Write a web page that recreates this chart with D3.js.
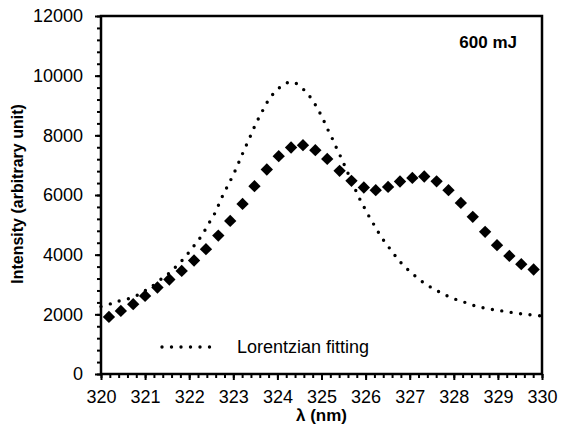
<!DOCTYPE html>
<html>
<head>
<meta charset="utf-8">
<script src="https://cdn.jsdelivr.net/npm/d3@7"></script>
<style>
  html, body { margin: 0; padding: 0; background: #fff; }
  svg { display: block; font-family: "Liberation Sans", Arial, sans-serif; }
</style>
</head>
<body>
<svg id="chart" width="568" height="435"></svg>
<script>
// Measured emission spectrum (diamonds)
const wavelength = [320.18, 320.45, 320.73, 321.00, 321.28, 321.55, 321.83, 322.11, 322.38, 322.66,
  322.93, 323.21, 323.48, 323.76, 324.03, 324.31, 324.58, 324.86, 325.13, 325.41,
  325.68, 325.96, 326.23, 326.51, 326.78, 327.06, 327.33, 327.61, 327.88, 328.16,
  328.43, 328.71, 328.98, 329.26, 329.53, 329.81];
const intensity = [1914, 2115, 2340, 2618, 2900, 3168, 3456, 3805, 4184, 4640,
  5130, 5700, 6296, 6855, 7301, 7593, 7670, 7503, 7210, 6809,
  6474, 6252, 6162, 6272, 6453, 6574, 6620, 6457, 6162, 5736,
  5267, 4764, 4318, 3959, 3681, 3503];

// Lorentzian fitting curve (dotted)
const fitWavelength = [320.00, 320.24, 320.47, 320.72, 320.95, 321.14, 321.41, 321.58, 321.73, 321.88,
  322.02, 322.16, 322.29, 322.40, 322.51, 322.62, 322.70, 322.80, 322.89, 322.99,
  323.08, 323.17, 323.25, 323.34, 323.43, 323.52, 323.62, 323.72, 323.83, 323.99,
  324.15, 324.35, 324.54, 324.68, 324.82, 324.93, 325.03, 325.12, 325.22, 325.31,
  325.40, 325.49, 325.58, 325.67, 325.76, 325.85, 325.95, 326.05, 326.16, 326.27,
  326.39, 326.52, 326.65, 326.79, 326.94, 327.10, 327.27, 327.45, 327.64, 327.83,
  328.03, 328.24, 328.46, 328.67, 328.88, 329.09, 329.31, 329.54, 329.76, 330.00];
const fitIntensity = [2260, 2363, 2474, 2565, 2752, 2920, 3235, 3423, 3647, 3872,
  4127, 4395, 4653, 4932, 5213, 5491, 5803, 6085, 6363, 6641,
  6943, 7245, 7526, 7814, 8116, 8418, 8699, 8978, 9256, 9514,
  9715, 9790, 9605, 9403, 9122, 8843, 8565, 8263, 7972, 7670,
  7392, 7100, 6799, 6500, 6205, 5917, 5636, 5357, 5079, 4797,
  4519, 4261, 4006, 3748, 3524, 3313, 3111, 2933, 2776, 2632,
  2508, 2407, 2296, 2216, 2162, 2115, 2062, 2015, 1981, 1945];

const xTicks = [320, 321, 322, 323, 324, 325, 326, 327, 328, 329, 330];
const yTicks = [0, 2000, 4000, 6000, 8000, 10000, 12000];

const svg = d3.select("#chart");
const margin = { left: 101, top: 16, right: 26, bottom: 61 };
const W = 568 - margin.left - margin.right;
const H = 435 - margin.top - margin.bottom;

const x = d3.scaleLinear().domain([320, 330]).range([0, W]);
const y = d3.scaleLinear().domain([0, 12000]).range([H, 0]);

const g = svg.append("g").attr("transform", `translate(${margin.left},${margin.top})`);

// Minor ticks
const xMinor = d3.range(320, 330.001, 0.2);
const yMinor = d3.range(0, 12000.1, 400);

const xAxisMinor = g.append("g").attr("transform", `translate(0,${H})`)
  .call(d3.axisBottom(x).tickValues(xMinor).tickSize(4).tickFormat(""));
const yAxisMinor = g.append("g")
  .call(d3.axisLeft(y).tickValues(yMinor).tickSize(4).tickFormat(""));

const xAxis = g.append("g").attr("transform", `translate(0,${H})`)
  .call(d3.axisBottom(x).tickValues(xTicks).tickSize(6).tickPadding(10).tickFormat(d3.format("d")));
const yAxis = g.append("g")
  .call(d3.axisLeft(y).tickValues(yTicks).tickSize(6).tickPadding(12).tickFormat(d3.format("d")));

[xAxisMinor, yAxisMinor, xAxis, yAxis].forEach(a => {
  a.select(".domain").remove();
  a.selectAll(".tick line").attr("stroke", "#000").attr("stroke-width", 2);
});
[xAxis, yAxis].forEach(a => {
  a.selectAll(".tick text").attr("fill", "#000")
    .style("font-size", "18px").style("font-family", "'Liberation Sans', Arial, sans-serif");
});

// Plot frame
g.append("rect").attr("x", 0).attr("y", 0).attr("width", W).attr("height", H)
  .attr("fill", "none").attr("stroke", "#000").attr("stroke-width", 2.5);

// Lorentzian fit (dotted)
const fitData = fitWavelength.map((w, i) => [w, fitIntensity[i]]);
g.append("path")
  .datum(fitData)
  .attr("fill", "none")
  .attr("stroke", "#000")
  .attr("stroke-width", 3.4)
  .attr("stroke-linecap", "round")
  .attr("stroke-dasharray", "0 9.5")
  .attr("d", d3.line().x(d => x(d[0])).y(d => y(d[1])).curve(d3.curveCatmullRom.alpha(0.5)));

// Measured points (diamonds)
const diamond = d3.symbol().type(d3.symbolSquare).size(76);
g.append("g").selectAll("path")
  .data(wavelength.map((w, i) => [w, intensity[i]]))
  .join("path")
  .attr("d", diamond)
  .attr("fill", "#000")
  .attr("transform", d => `translate(${x(d[0])},${y(d[1])}) rotate(45)`);

// Legend
const legY = 347 - margin.top;
g.append("line")
  .attr("x1", 162 - margin.left).attr("x2", 219 - margin.left)
  .attr("y1", legY).attr("y2", legY)
  .attr("stroke", "#000").attr("stroke-width", 3.4)
  .attr("stroke-linecap", "round").attr("stroke-dasharray", "0 9.5");
g.append("text")
  .attr("x", 237 - margin.left).attr("y", legY + 6)
  .style("font-size", "18px").attr("fill", "#000")
  .text("Lorentzian fitting");

// Energy label
g.append("text")
  .attr("x", 517 - margin.left).attr("y", 48 - margin.top)
  .attr("text-anchor", "end")
  .style("font-size", "17px").style("font-weight", "bold").attr("fill", "#000")
  .text("600 mJ");

// Axis titles
svg.append("text")
  .attr("x", margin.left + W / 2).attr("y", 421)
  .attr("text-anchor", "middle")
  .style("font-size", "17px").style("font-weight", "bold")
  .text("λ (nm)");
svg.append("text")
  .attr("transform", `translate(23,194) rotate(-90)`)
  .attr("text-anchor", "middle")
  .style("font-size", "16px").style("font-weight", "bold")
  .text("Intensity (arbitrary unit)");
</script>
</body>
</html>
